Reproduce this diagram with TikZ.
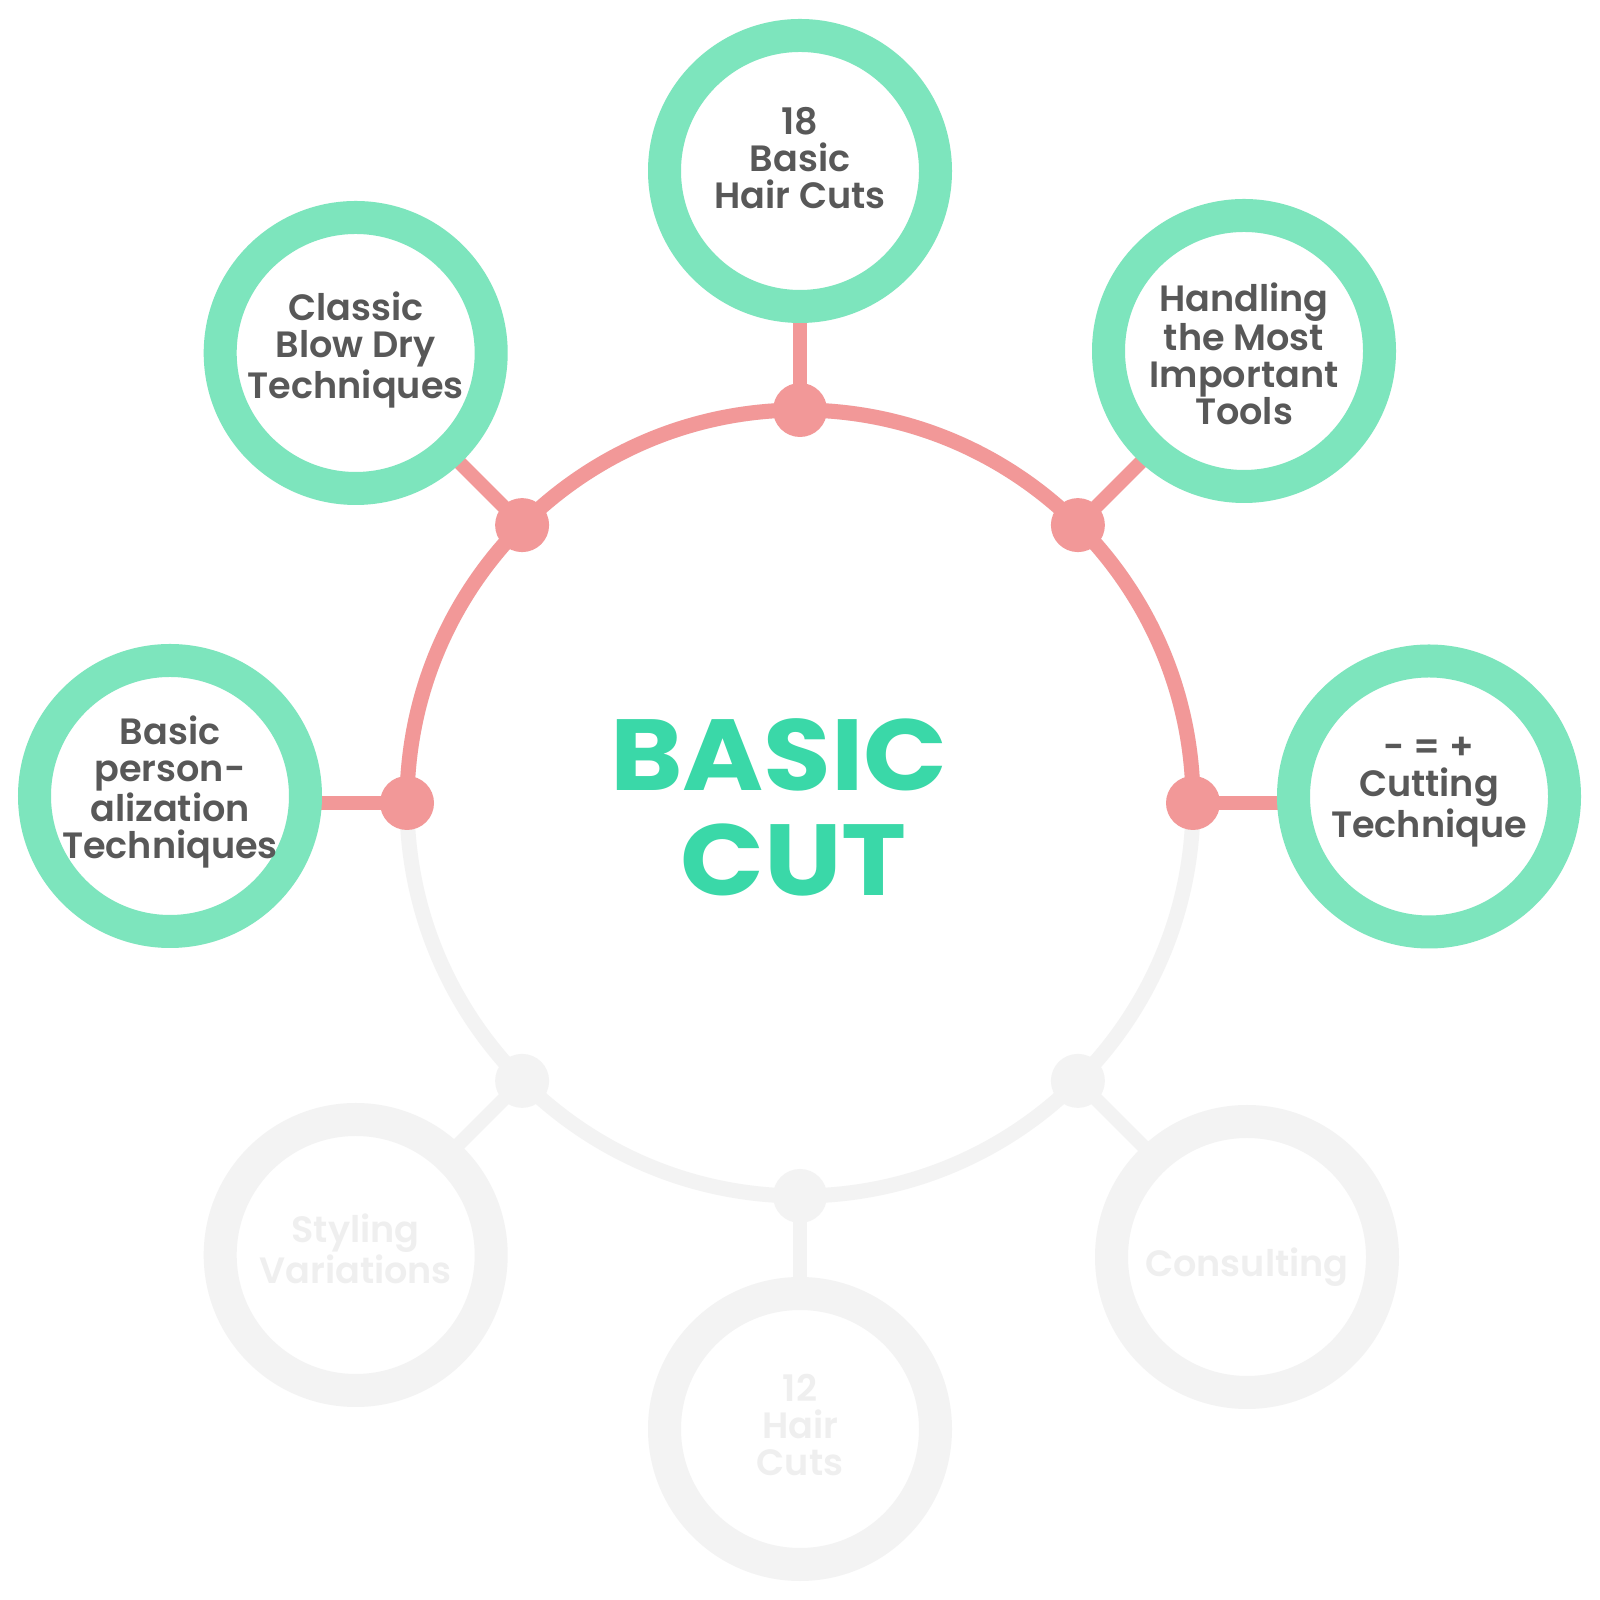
\documentclass[tikz,border=0pt]{standalone}
\usepackage{fontspec}
\setmainfont{Poppins}
\newfontfamily\semifont{Poppins SemiBold}
\newfontfamily\titlefont{Poppins Bold}[FakeStretch=1.09]
\usetikzlibrary{backgrounds,calc}
\definecolor{ringc}{HTML}{7DE5BD}
\definecolor{pinkc}{HTML}{F29898}
\definecolor{grayc}{HTML}{F3F3F3}
\definecolor{graytext}{HTML}{EFEFEF}
\definecolor{textc}{HTML}{585858}
\definecolor{titlec}{HTML}{3AD8A8}
\begin{document}
\begin{tikzpicture}[x=0.5pt,y=0.5pt,
  hub/.style={circle,minimum size=393pt,inner sep=0pt,outer sep=0pt},
  sat/.style={circle,draw=ringc,line width=16.5pt,fill=white,minimum size=135.5pt,inner sep=0pt,outer sep=0pt},
  satoff/.style={sat,draw=grayc},
  sattext/.style={align=center,inner sep=0pt,font=\semifont\fontsize{18.3}{18.5}\selectfont,text=textc},
  sattextoff/.style={sattext,text=graytext},
  dotpt/.style={circle,fill=pinkc,minimum size=27pt,inner sep=0pt,outer sep=0pt},
  dotoff/.style={dotpt,fill=grayc},
  link/.style={draw=pinkc,line width=7pt},
  linkoff/.style={draw=grayc,line width=7pt},
  title/.style={font=\titlefont\fontsize{50.5}{52}\selectfont,text=titlec,inner sep=0pt}]
\useasboundingbox (0,0) rectangle (1600,1600);
\node[hub] (hub) at (800,797) {};
% dots
\node[dotpt]  (d90)  at (hub.90)  {};
\node[dotpt]  (d45)  at (hub.45)  {};
\node[dotpt]  (d0)   at (hub.0)   {};
\node[dotpt]  (d135) at (hub.135) {};
\node[dotpt]  (d180) at (hub.180) {};
\node[dotoff] (d225) at (hub.225) {};
\node[dotoff] (d270) at (hub.270) {};
\node[dotoff] (d315) at (hub.315) {};
% connector ends (radial)
\foreach \a in {90,45,0,135,180,225,270,315}
  \coordinate (c\a) at ($(hub.center)+(\a:631)$);
% satellites
\node[sat] (s90) at (800,1429) {};
\node[sat] (s45) at (1244,1249) {};
\node[sat] (s0) at (1429,803.5) {};
\node[sat] (s135) at (355.7,1247) {};
\node[sat] (s180) at (170,804) {};
\node[satoff] (s225) at (355.7,345) {};
\node[satoff] (s270) at (800,171) {};
\node[satoff] (s315) at (1247,343) {};
% satellite texts
\node[sattext,yshift=6.5pt] (t90) at (s90) {18\\Basic\\Hair Cuts};
\node[sattext,yshift=-1.5pt] (t45) at (s45) {Handling\\the Most\\Important\\Tools};
\node[sattext,yshift=2pt] (t0) at (s0) {- = +\\Cutting\\Technique};
\node[sattext,yshift=1.5pt] (t135) at (s135) {Classic\\Blow Dry\\Techniques};
\node[sattext,yshift=2pt] (t180) at (s180) {Basic\\person-\\alization\\Techniques};
\node[sattextoff,yshift=3pt] (t225) at (s225) {Styling\\Variations};
\node[sattextoff,yshift=2pt] (t270) at (s270) {12\\Hair\\Cuts};
\node[sattextoff,yshift=-5pt] (t315) at (s315) {Consulting};
% title
\node[title,anchor=base] (basic) at (779,809) {BASIC};
\node[title,anchor=base] (cut) at (793.5,704) {CUT};
\begin{scope}[on background layer]
  \fill[white] (0,0) rectangle (1600,1600);
  \draw[grayc,line width=7.5pt] (hub.center) circle[radius=393];
  \draw[pinkc,line width=7.5pt] (hub.0) arc[start angle=0,end angle=180,radius=393];
  \draw[link] (d90.center) -- (c90);
  \draw[link] (d45.center) -- (c45);
  \draw[link] (d0.center) -- (c0);
  \draw[link] (d135.center) -- (c135);
  \draw[link] (d180.center) -- (c180);
  \draw[linkoff] (d225.center) -- (c225);
  \draw[linkoff] (d270.center) -- (c270);
  \draw[linkoff] (d315.center) -- (c315);
\end{scope}
\end{tikzpicture}
\end{document}
